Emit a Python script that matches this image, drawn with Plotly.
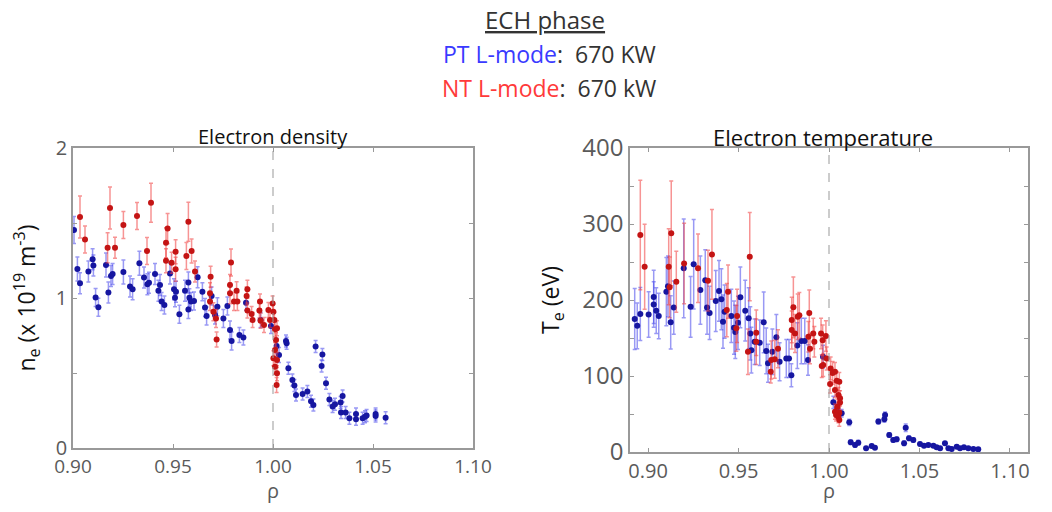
import plotly.graph_objects as go

# electron density, PT L-mode (blue)
ne_pt_rho = [0.9005, 0.9022, 0.9035, 0.9077, 0.9098, 0.9102, 0.9113, 0.9127, 0.9165, 0.9177,
             0.919, 0.9198, 0.9252, 0.9285, 0.9298, 0.9332, 0.9355, 0.9372, 0.938, 0.941,
             0.9427, 0.9435, 0.9443, 0.9457, 0.9485, 0.9505, 0.9515, 0.951, 0.9532, 0.956,
             0.9577, 0.9582, 0.959, 0.9577, 0.9605, 0.9623, 0.9647, 0.966, 0.9668, 0.9693,
             0.971, 0.9722, 0.9752, 0.9772, 0.9785, 0.9793, 0.9832, 0.9852, 0.9865, 0.9938,
             0.999, 1.0018, 1.003, 1.0065, 1.0068, 1.0077, 1.0097, 1.0107, 1.0115, 1.0148,
             1.0172, 1.019, 1.0202, 1.0213, 1.0247, 1.0243, 1.0265, 1.0282, 1.0298, 1.031,
             1.0338, 1.0348, 1.034, 1.0363, 1.0382, 1.0415, 1.0415, 1.0448, 1.046, 1.0468,
             1.0513, 1.0513, 1.0563]
ne_pt = [1.453, 1.193, 1.098, 1.176, 1.258, 1.216, 1.004, 0.938, 1.22, 1.036,
         1.147, 1.16, 1.173, 1.076, 1.058, 1.231, 1.136, 1.091, 1.102, 1.16,
         1.049, 1.087, 0.976, 0.953, 1.164, 1.058, 1.042, 1.002, 0.891, 1.049,
         1.104, 1.002, 0.976, 0.924, 0.98, 1.138, 1.042, 0.936, 0.88, 1.013,
         0.887, 0.942, 0.864, 0.947, 0.787, 0.713, 0.753, 0.736, 0.969, 0.853,
         0.813, 0.68, 0.62, 0.713, 0.698, 0.531, 0.453, 0.416, 0.353, 0.36,
         0.376, 0.311, 0.287, 0.676, 0.624, 0.547, 0.431, 0.324, 0.276, 0.291,
         0.304, 0.347, 0.236, 0.236, 0.198, 0.227, 0.191, 0.198, 0.209, 0.216,
         0.213, 0.227, 0.202]
ne_pt_err = [0.09, 0.08, 0.07, 0.07, 0.07, 0.07, 0.06, 0.06, 0.08, 0.07,
             0.07, 0.07, 0.08, 0.07, 0.07, 0.08, 0.07, 0.07, 0.07, 0.07,
             0.07, 0.07, 0.06, 0.06, 0.07, 0.07, 0.07, 0.06, 0.06, 0.07,
             0.07, 0.06, 0.06, 0.06, 0.06, 0.07, 0.06, 0.06, 0.06, 0.06,
             0.06, 0.06, 0.06, 0.06, 0.06, 0.06, 0.05, 0.05, 0.05, 0.05,
             0.05, 0.05, 0.05, 0.04, 0.04, 0.04, 0.04, 0.04, 0.04, 0.04,
             0.04, 0.04, 0.04, 0.04, 0.04, 0.04, 0.04, 0.04, 0.04, 0.04,
             0.04, 0.04, 0.04, 0.04, 0.04, 0.04, 0.04, 0.04, 0.04, 0.04,
             0.04, 0.04, 0.04]

# electron density, NT L-mode (red)
ne_nt_rho = [0.9035, 0.906, 0.9185, 0.9173, 0.921, 0.9252, 0.932, 0.937, 0.939, 0.9465,
             0.9473, 0.9465, 0.9493, 0.9513, 0.9513, 0.9577, 0.9567, 0.9593, 0.961, 0.9688,
             0.9685, 0.9685, 0.9702, 0.9715, 0.9718, 0.979, 0.9785, 0.9785, 0.9805, 0.9822,
             0.9818, 0.9872, 0.9868, 0.9872, 0.9893, 0.9898, 0.9935, 0.9932, 0.9938, 0.9955,
             0.9977, 0.9985, 0.9998, 1.0002, 1.0007, 1.001, 1.0015, 1.001, 1.0002, 1.002,
             1.001, 1.002, 1.0018, 1.002]
ne_nt = [1.54, 1.39, 1.60, 1.335, 1.335, 1.487, 1.547, 1.313, 1.635, 1.369,
         1.464, 1.249, 1.235, 1.309, 1.191, 1.509, 1.28, 1.313, 1.176, 1.142,
         1.031, 0.976, 0.909, 0.864, 0.724, 1.236, 1.087, 1.031, 0.976, 0.976,
         1.049, 1.058, 1.013, 0.916, 0.893, 0.853, 0.976, 0.916, 0.849, 0.82,
         0.92, 0.853, 0.964, 0.909, 0.853, 0.791, 0.72, 0.653, 0.598, 0.587,
         0.542, 0.498, 0.42, 0.798]
ne_nt_err = [0.14, 0.09, 0.14, 0.10, 0.07, 0.09, 0.09, 0.09, 0.13, 0.10,
             0.10, 0.08, 0.07, 0.08, 0.08, 0.13, 0.09, 0.08, 0.07, 0.07,
             0.07, 0.06, 0.06, 0.06, 0.05, 0.09, 0.07, 0.07, 0.06, 0.06,
             0.06, 0.06, 0.06, 0.05, 0.05, 0.05, 0.05, 0.05, 0.05, 0.05,
             0.05, 0.05, 0.05, 0.05, 0.05, 0.05, 0.05, 0.05, 0.05, 0.05,
             0.05, 0.05, 0.05, 0.05]

# electron temperature, PT L-mode (blue)
te_pt_rho = [0.8926, 0.894, 0.8957, 0.9003, 0.9031, 0.9031, 0.9045, 0.9059, 0.9101, 0.911,
             0.9125, 0.9142, 0.9197, 0.9235, 0.9252, 0.9289, 0.9316, 0.9326, 0.934, 0.9374,
             0.9392, 0.9405, 0.9423, 0.9414, 0.946, 0.9475, 0.9482, 0.9497, 0.951, 0.9537,
             0.9556, 0.9565, 0.9571, 0.9589, 0.9617, 0.9639, 0.9653, 0.9663, 0.9687, 0.9709,
             0.9727, 0.9764, 0.9779, 0.9792, 0.9825, 0.9847, 0.9866, 0.9884, 0.9967, 1.0024,
             1.0046, 1.007, 1.0112, 1.012, 1.0144, 1.0162, 1.0205, 1.0236, 1.0254, 1.0273,
             1.031, 1.0306, 1.0333, 1.0355, 1.0374, 1.0415, 1.0424, 1.0442, 1.0466, 1.0503,
             1.0525, 1.0549, 1.0577, 1.0595, 1.0614, 1.0641, 1.066, 1.0678, 1.0706, 1.0724,
             1.0746, 1.077, 1.0798, 1.0825]
te_pt = [175, 166, 181.6, 181, 204, 194, 186, 179, 211, 218,
         170.6, 190, 241.7, 191, 247, 213, 226, 190, 183, 198.7,
         212, 201, 184.6, 171.5, 179, 163.6, 158, 170, 203.5, 186,
         176, 156, 134, 145, 143.8, 170.6, 133, 116.7, 132, 151,
         118.8, 123, 123, 101, 140, 146, 146, 121, 125.4, 65.4,
         57.5, 51, 39, 12.8, 9.2, 12.3, 4.8, 7.9, 5.7, 40,
         48.7, 43, 22.4, 15.8, 16.7, 11.4, 32, 18, 15.8, 10.5,
         8.3, 9.2, 8.3, 6.1, 4.8, 11.4, 4.8, 4, 7, 4.8,
         6.1, 4.8, 4, 3.5]
te_pt_err = [40, 30, 35, 30, 35, 30, 30, 30, 45, 40,
             35, 35, 65, 40, 59, 45, 40, 35, 35, 40,
             40, 40, 35, 35, 35, 35, 35, 35, 40, 40,
             40, 35, 30, 30, 30, 40, 30, 25, 30, 30,
             25, 25, 25, 15, 30, 30, 30, 20, 15, 8,
             6, 5, 4, 3, 3, 3, 2, 2, 2, 3,
             4, 4, 3, 3, 3, 3, 5, 3, 3, 2,
             2, 2, 2, 2, 2, 2, 2, 2, 2, 2,
             2, 2, 2, 2]

# electron temperature, NT L-mode (red)
te_nt_rho = [0.8957, 0.8981, 0.9128, 0.9114, 0.9119, 0.9156, 0.9199, 0.9276, 0.9331, 0.9353,
             0.9442, 0.9435, 0.9492, 0.9488, 0.9562, 0.9552, 0.9598, 0.9598, 0.9681, 0.970,
             0.9718, 0.9678, 0.9803, 0.9794, 0.9794, 0.9812, 0.9836, 0.9827, 0.9891, 0.9886,
             0.9895, 0.9913, 0.9919, 0.9956, 0.9983, 0.9965, 0.996, 0.9968, 0.9987, 1.0009,
             1.002, 1.0033, 1.0006, 1.0043, 1.0057, 1.0033, 1.0052, 1.0061, 1.0046, 1.0033,
             1.0057, 1.0052, 1.0057, 1.0039, 1.0061]
te_nt = [285.5, 243.8, 287.7, 243.8, 216.7, 224, 248, 241.7, 225.4, 260,
         211, 186.8, 179, 162.7, 257, 132, 157, 145, 121, 122,
         136, 105.7, 190.4, 173.7, 160.5, 156, 180, 178, 183, 151.7,
         136, 156, 145, 156, 152.6, 147, 113, 114.5, 123, 110,
         104, 105.7, 89.5, 93.8, 92.5, 81.6, 75, 70.6, 59.6, 53,
         51.7, 46.5, 42, 48.7, 65]
te_nt_err = [72, 56, 69, 50, 40, 40, 53, 45, 40, 59,
             35, 35, 35, 30, 58, 30, 30, 30, 25, 25,
             25, 15, 40, 30, 25, 25, 30, 30, 30, 20,
             20, 20, 20, 20, 20, 20, 15, 15, 15, 15,
             15, 12, 12, 12, 12, 10, 10, 10, 10, 10,
             10, 8, 8, 8, 10]

BLUE = '#1616a0'
RED = '#c41414'
BLUE_BAR = 'rgba(70,70,235,0.55)'
RED_BAR = 'rgba(240,60,60,0.55)'
FONT = 'Open Sans'

# the page body has an 8px margin, so the figure sits at (8, 8) in the window
PAD = 8
W, H = 1052 - 2 * PAD, 512 - 2 * PAD


def xp(px):
    return (px - PAD) / W


def yp(py):
    return 1 - (py - PAD) / H


fig = go.Figure()


def add_series(x, y, err, col, bar, xa, ya):
    fig.add_trace(go.Scatter(
        x=x, y=y, mode='markers', xaxis=xa, yaxis=ya, showlegend=False,
        marker=dict(color=col, size=6),
        error_y=dict(type='data', array=err, color=bar, thickness=1.5, width=2)))


add_series(ne_pt_rho, ne_pt, ne_pt_err, BLUE, BLUE_BAR, 'x', 'y')
add_series(ne_nt_rho, ne_nt, ne_nt_err, RED, RED_BAR, 'x', 'y')
add_series(te_pt_rho, te_pt, te_pt_err, BLUE, BLUE_BAR, 'x2', 'y2')
add_series(te_nt_rho, te_nt, te_nt_err, RED, RED_BAR, 'x2', 'y2')

frame = dict(showline=True, linecolor='#999', linewidth=1.5, mirror='ticks',
             ticks='inside', ticklen=4, tickcolor='#999', showgrid=False, zeroline=False,
             automargin=False)
rho_ticks = [0.90, 0.95, 1.00, 1.05, 1.10]
rho_text = ['0.90', '0.95', '1.00', '1.05', '1.10']

fig.update_layout(
    width=W, height=H,
    margin=dict(l=0, r=0, t=0, b=0, autoexpand=False),
    paper_bgcolor='white', plot_bgcolor='white',
    font=dict(family=FONT, color='#222'),
    xaxis=dict(frame, domain=[xp(73), xp(473)], range=[0.90, 1.10],
               tickvals=rho_ticks, ticktext=rho_text,
               tickfont=dict(size=19, color='#5a5a5a'),
               title=dict(text='ρ', font=dict(size=20, color='#5a5a5a'), standoff=4)),
    yaxis=dict(frame, domain=[yp(448), yp(148)], range=[0, 2],
               tickvals=[0, 0.5, 1, 1.5, 2], ticktext=['0', '', '1', '', '2'],
               tickfont=dict(size=20, color='#5a5a5a'),
               title=dict(text='n<sub>e</sub> (x 10<sup>19</sup> m<sup>-3</sup>)',
                          font=dict(size=23, color='#111'), standoff=14)),
    xaxis2=dict(frame, domain=[xp(630), xp(1028)], range=[0.89, 1.11], anchor='y2',
                tickvals=rho_ticks, ticktext=rho_text,
                tickfont=dict(size=20, color='#5a5a5a'),
                title=dict(text='ρ', font=dict(size=20, color='#5a5a5a'), standoff=6)),
    yaxis2=dict(frame, domain=[yp(452), yp(148)], range=[0, 400], anchor='x2',
                tickvals=[0, 50, 100, 150, 200, 250, 300, 350, 400],
                ticktext=['0', '', '100', '', '200', '', '300', '', '400'],
                tickfont=dict(size=24, color='#5a5a5a'),
                title=dict(text='T<sub>e</sub> (eV)', font=dict(size=23, color='#111'), standoff=16)),
)

for xr, yr in (('x', 'y domain'), ('x2', 'y2 domain')):
    fig.add_shape(type='line', xref=xr, yref=yr, x0=1.0, x1=1.0, y0=0, y1=1,
                  line=dict(color='#999', width=1, dash='dash'))


def note(text, px, py, size, color):
    fig.add_annotation(text=text, x=xp(px), y=yp(py), xref='paper', yref='paper',
                       xanchor='center', yanchor='middle', showarrow=False,
                       font=dict(size=size, color=color))


note('Electron density', 273, 137, 20, '#111')
note('Electron temperature', 823, 137, 22, '#111')
note('<u>ECH phase</u>', 545, 20, 24, '#333')
note('<span style="color:#3a3aff">PT L-mode</span>:  670 KW', 549, 54, 23, '#333')
note('<span style="color:#ff3a3a">NT L-mode</span>:  670 kW', 549, 88, 23, '#333')

fig.write_html("out.html")
